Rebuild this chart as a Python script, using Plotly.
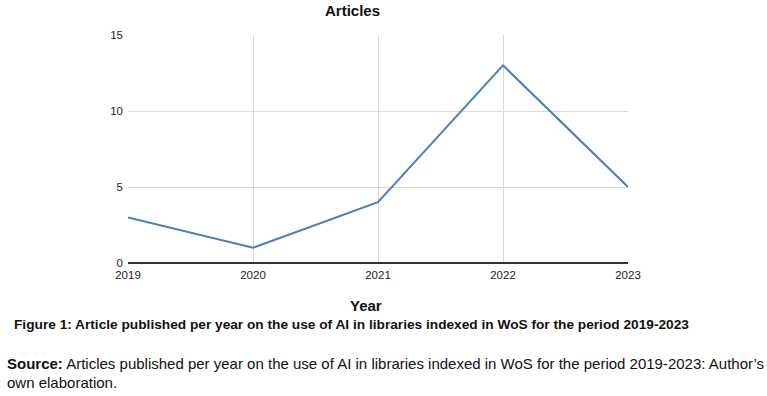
import plotly.graph_objects as go

years = [2019, 2020, 2021, 2022, 2023]
articles = [3, 1, 4, 13, 5]
y_ticks = [0, 5, 10, 15]

W, H = 767, 396
L, R, T, B = 128, 628, 35, 263

def px(x):
    return (x - L) / (R - L)

def py(y):
    return (B - y) / (B - T)

fig = go.Figure()
fig.add_trace(go.Scatter(x=years, y=articles, mode="lines",
                         line=dict(color="#4a7ebf", width=2), hoverinfo="x+y"))

font = "Liberation Sans, Arial, sans-serif"
fig.update_layout(
    template="none",
    width=W, height=H,
    margin=dict(l=L, r=W - R, t=T, b=H - B, autoexpand=False),
    plot_bgcolor="white", paper_bgcolor="white",
    showlegend=False,
    font=dict(family=font, size=11, color="#222"),
    xaxis=dict(range=[2019, 2023], tickvals=years, ticktext=[str(y) for y in years],
               showgrid=True, gridcolor="#d9d9d9", gridwidth=1, zeroline=False,
               showline=False, ticks="", ticklabelstandoff=3,
               tickfont=dict(size=11.5, color="#222")),
    yaxis=dict(range=[0, 15], tickvals=y_ticks, showgrid=True, gridcolor="#d9d9d9",
               gridwidth=1, zeroline=True, zerolinecolor="#333", zerolinewidth=1.5,
               showline=False, ticks="", ticklabelstandoff=4,
               tickfont=dict(size=11.5, color="#222")),
)

ann = [
    dict(text="<b>Articles</b>", x=px(352), y=py(11), size=15, xanchor="center"),
    dict(text="<b>Year</b>", x=px(366), y=py(305), size=15, xanchor="center"),
    dict(text="<b>Figure 1: Article published per year on the use of AI in libraries indexed in WoS for the period 2019-2023</b>",
         x=px(12), y=py(324), size=13.7, xanchor="left"),
    dict(text="<b>Source:</b> Articles published per year on the use of AI in libraries indexed in WoS for the period 2019-2023: Author\u2019s",
         x=px(5), y=py(363), size=15, xanchor="left"),
    dict(text="own elaboration.", x=px(5), y=py(383), size=15, xanchor="left"),
]
for a in ann:
    fig.add_annotation(text=a["text"], x=a["x"], y=a["y"], xref="paper", yref="paper",
                       xanchor=a["xanchor"], yanchor="middle", showarrow=False,
                       font=dict(family=font, size=a["size"], color="#111"))

fig.write_html("out.html", config={"displayModeBar": False},
               post_script="document.body.style.margin='0';document.body.style.overflow='hidden';")
